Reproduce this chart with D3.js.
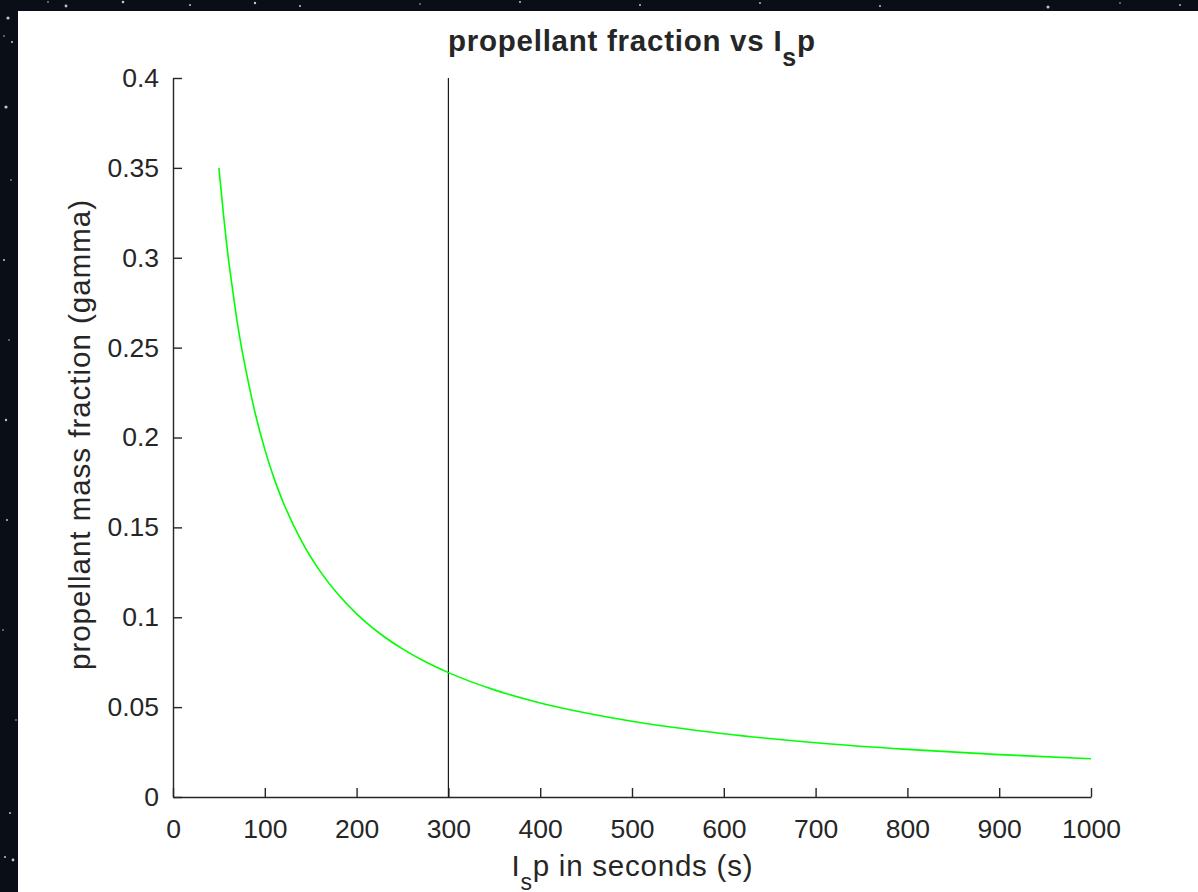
<!DOCTYPE html>
<html>
<head>
<meta charset="utf-8">
<script src="https://cdn.jsdelivr.net/npm/d3@7"></script>
<style>
  html, body { margin: 0; padding: 0; background: #0a0e17; }
  svg { display: block; }
  text { font-family: "Liberation Sans", Arial, Helvetica, sans-serif; fill: #262626; }
</style>
</head>
<body>
<svg id="chart" width="1198" height="892"></svg>
<script>
// Specific impulse (s) and propellant mass fraction along the curve
const ispValues = [50, 55, 60, 65, 70, 75, 80, 90, 100, 110, 120, 140, 160, 180, 200, 225, 250, 275, 300, 350, 400, 450, 500, 600, 700, 800, 900, 1000];
const gammaValues = [0.350, 0.324, 0.301, 0.282, 0.264, 0.249, 0.236, 0.2125, 0.1934, 0.1774, 0.164, 0.1424, 0.1258, 0.1126, 0.1019, 0.0911, 0.0824, 0.0752, 0.0692, 0.0596, 0.0523, 0.0467, 0.0421, 0.0352, 0.0302, 0.0265, 0.0236, 0.0213];

// Reference line position
const markerIsp = [300];

// Axis ticks
const xTicks = [0, 100, 200, 300, 400, 500, 600, 700, 800, 900, 1000];
const yTicks = [0, 0.05, 0.1, 0.15, 0.2, 0.25, 0.3, 0.35, 0.4];
const yTickLabels = ["0", "0.05", "0.1", "0.15", "0.2", "0.25", "0.3", "0.35", "0.4"];

// Background star field around the figure window
const stars = [
  [8, 18, 1.6], [6, 107, 1.6], [12, 42, 1.0], [4, 36, 0.8], [5, 857, 1.0], [13, 860, 1.4],
  [10, 813, 1.0], [3, 630, 0.8], [7, 520, 1.0], [6, 420, 1.2], [9, 340, 0.8], [4, 260, 1.0],
  [11, 180, 0.8], [66, 6, 1.4], [123, 2, 1.3], [48, 2, 0.8], [190, 5, 1.0], [255, 3, 1.2],
  [300, 6, 1.0], [420, 4, 0.8], [520, 2, 1.0], [640, 5, 1.0], [760, 3, 0.9], [880, 6, 1.0],
  [1048, 7, 1.5], [1120, 3, 0.8], [1180, 5, 0.9], [16, 720, 0.8]
];

const svg = d3.select("#chart");

// Dark sky behind the figure
svg.append("rect").attr("width", 1198).attr("height", 892).attr("fill", "#0a0e17");
svg.append("g").selectAll("circle").data(stars).join("circle")
  .attr("cx", d => d[0]).attr("cy", d => d[1]).attr("r", d => d[2])
  .attr("fill", "#dfe6f0").attr("opacity", 0.85);

// White figure window
svg.append("rect").attr("x", 18).attr("y", 11).attr("width", 1198 - 18).attr("height", 892 - 11).attr("fill", "#ffffff");

const plotLeft = 173, plotRight = 1091, plotTop = 78, plotBottom = 797;

const x = d3.scaleLinear().domain([0, 1000]).range([plotLeft, plotRight]);
const y = d3.scaleLinear().domain([0, 0.4]).range([plotBottom, plotTop]);

const axisColor = "#262626";
const tickFont = 26.5;

// X axis (ticks point inward)
const xAxis = svg.append("g").attr("transform", `translate(0,${plotBottom})`)
  .call(d3.axisBottom(x).tickValues(xTicks).tickSize(-9).tickPadding(22).tickSizeOuter(0).tickFormat(d3.format("d")));
xAxis.select(".domain").attr("stroke", axisColor).attr("stroke-width", 1.4);
xAxis.selectAll(".tick line").attr("stroke", axisColor).attr("stroke-width", 1.4);
xAxis.selectAll(".tick text").attr("font-size", tickFont).attr("fill", axisColor)
  .attr("font-family", "Liberation Sans, Arial, sans-serif");

// Y axis (ticks point inward)
const yAxis = svg.append("g").attr("transform", `translate(${plotLeft},0)`)
  .call(d3.axisLeft(y).tickValues(yTicks).tickSize(-9).tickPadding(14).tickSizeOuter(0)
    .tickFormat((d, i) => yTickLabels[i]));
yAxis.select(".domain").attr("stroke", axisColor).attr("stroke-width", 1.4);
yAxis.selectAll(".tick line").attr("stroke", axisColor).attr("stroke-width", 1.4);
yAxis.selectAll(".tick text").attr("font-size", tickFont).attr("fill", axisColor)
  .attr("font-family", "Liberation Sans, Arial, sans-serif");

// Vertical marker line
svg.append("g").selectAll("line").data(markerIsp).join("line")
  .attr("x1", d => x(d)).attr("x2", d => x(d))
  .attr("y1", y(0)).attr("y2", y(0.4))
  .attr("stroke", "#1a1a1a").attr("stroke-width", 1.2);

// Propellant fraction curve
const points = ispValues.map((v, i) => [v, gammaValues[i]]);
svg.append("path").datum(points)
  .attr("fill", "none").attr("stroke", "#00ff00").attr("stroke-width", 1.6)
  .attr("d", d3.line().x(d => x(d[0])).y(d => y(d[1])).curve(d3.curveMonotoneX));

// Title with subscript
const title = svg.append("text").attr("x", 631.5).attr("y", 51)
  .attr("text-anchor", "middle").attr("font-size", 29.5).attr("font-weight", "bold").attr("fill", "#000")
  .attr("textLength", 367).attr("lengthAdjust", "spacing");
title.append("tspan").text("propellant fraction vs I");
title.append("tspan").attr("dy", 15).attr("font-size", 25).text("s");
title.append("tspan").attr("dy", -15).text("p");

// X axis label
const xl = svg.append("text").attr("x", 632).attr("y", 876)
  .attr("text-anchor", "middle").attr("font-size", 29.5).attr("fill", axisColor)
  .attr("textLength", 241).attr("lengthAdjust", "spacing");
xl.append("tspan").text("I");
xl.append("tspan").attr("dy", 14).attr("font-size", 23).text("s");
xl.append("tspan").attr("dy", -14).text("p in seconds (s)");

// Y axis label
svg.append("text")
  .attr("transform", `translate(90,435) rotate(-90)`)
  .attr("text-anchor", "middle").attr("font-size", 29.5).attr("fill", axisColor)
  .attr("textLength", 470).attr("lengthAdjust", "spacing")
  .text("propellant mass fraction (gamma)");
</script>
</body>
</html>
